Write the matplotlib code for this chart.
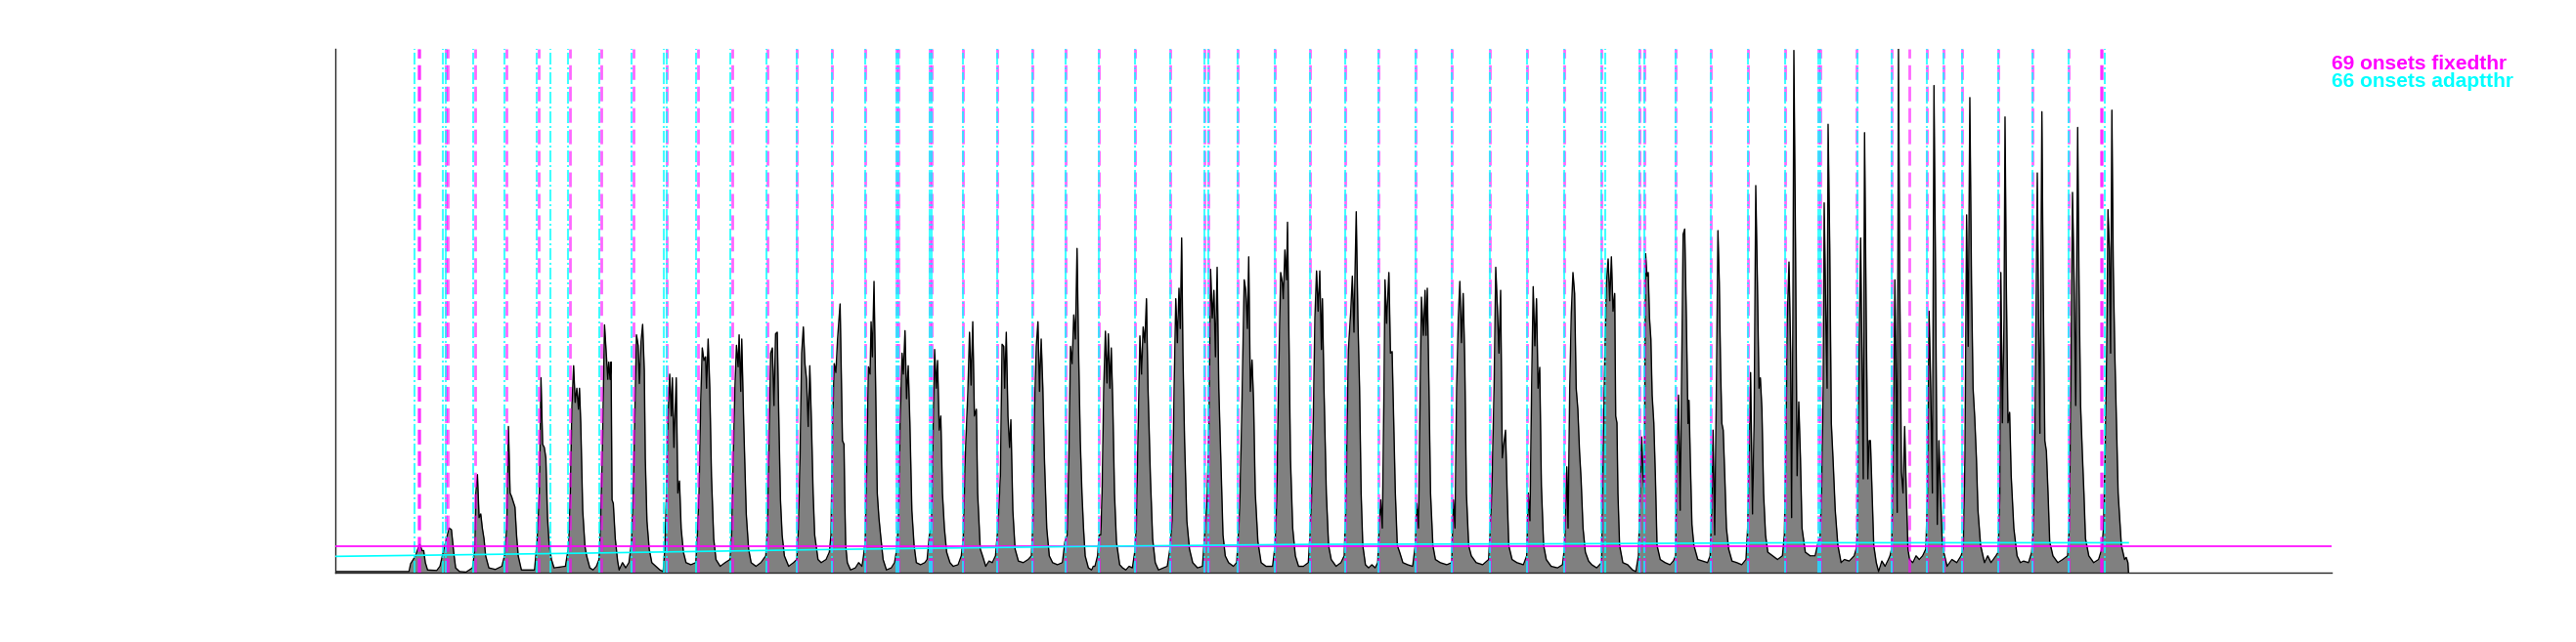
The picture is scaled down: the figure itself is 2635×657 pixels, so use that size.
import numpy as np
import matplotlib.pyplot as plt

# onset envelope (frame, level)
envelope = [
    (0, 0.002), (75.3, 0.002), (77, 0.017), (82, 0.032), (84.3, 0.045), (86.3, 0.054), (88.7, 0.042),
    (90.3, 0.042), (92, 0.019), (94.3, 0.005), (103.7, 0.004), (107, 0.012), (110.3, 0.039), (113.7, 0.065),
    (116.3, 0.085), (118.7, 0.082), (121, 0.039), (123, 0.009), (127, 0.002), (133.7, 0.001), (140.3, 0.009),
    (142.7, 0.045), (143.7, 0.152), (145.3, 0.187), (147, 0.105), (148.7, 0.112), (150.3, 0.085), (152, 0.065),
    (153.7, 0.032), (157, 0.009), (163.7, 0.006), (170.3, 0.012), (173, 0.032), (175.3, 0.085), (177, 0.279),
    (178.7, 0.152), (180.3, 0.145), (183.7, 0.125), (185.3, 0.072), (187, 0.032), (190.3, 0.005), (203.7, 0.005),
    (206.3, 0.059), (208.7, 0.152), (210.3, 0.372), (212, 0.245), (213.7, 0.239), (215.3, 0.219), (217, 0.105),
    (218.7, 0.052), (221, 0.025), (223.7, 0.009), (235.3, 0.012), (238.7, 0.052), (240.3, 0.152), (242, 0.319),
    (243.7, 0.395), (245.3, 0.325), (247, 0.352), (248.7, 0.312), (249.7, 0.352), (251, 0.285), (253, 0.119),
    (255.3, 0.05),
    (257, 0.032), (260.3, 0.009), (263.7, 0.005), (267, 0.012), (269.7, 0.025), (271, 0.079), (273, 0.219),
    (275.3, 0.473), (277, 0.42), (278.7, 0.369), (279.7, 0.402), (281, 0.369), (282, 0.402), (283, 0.139),
    (284.3, 0.132), (286.3, 0.065), (288.7, 0.022), (290.3, 0.005), (293.7, 0.019), (297, 0.009), (300.3, 0.019),
    (303, 0.059), (304.7, 0.152), (306.3, 0.299), (308, 0.454), (309.7, 0.434), (311, 0.361), (312.7, 0.441),
    (314.3, 0.474), (316, 0.386), (317, 0.219), (318.7, 0.099), (321, 0.045), (323.7, 0.019), (332, 0.005),
    (335.3, 0.002), (337, 0.045), (338.7, 0.152), (340.3, 0.299), (342, 0.379), (343.7, 0.299), (344.7, 0.372),
    (346.3, 0.239), (348.7, 0.372), (350.3, 0.152), (352, 0.175), (353.7, 0.085), (356, 0.039), (358.7, 0.019),
    (363.7, 0.015), (368.7, 0.019), (370.3, 0.072), (372, 0.152), (373.7, 0.325), (375.3, 0.429), (377, 0.405),
    (378.7, 0.412), (379.7, 0.352), (381.3, 0.446), (383, 0.352), (384.7, 0.185), (387, 0.065), (389.3, 0.025),
    (393.7, 0.012), (398.7, 0.019), (403.7, 0.025), (405.3, 0.072), (407, 0.219), (408.7, 0.352), (410.3, 0.434),
    (412, 0.393), (413, 0.454), (414.7, 0.346), (415.7, 0.446), (417.7, 0.285), (420.3, 0.112), (422.7, 0.045),
    (425.3, 0.019), (430.3, 0.012), (435.3, 0.019), (440.3, 0.032), (442, 0.085), (443.7, 0.252), (445.3, 0.419),
    (447, 0.429), (448.7, 0.319), (450.3, 0.456), (452, 0.459), (453.7, 0.285), (455.3, 0.139), (457, 0.072),
    (459.3, 0.032), (463.7, 0.012), (468.7, 0.019), (472, 0.025), (473.7, 0.085), (475.3, 0.219), (477, 0.419),
    (478.7, 0.469), (480.3, 0.399), (482, 0.369), (483.7, 0.279), (485.3, 0.395), (487, 0.285), (488.7, 0.152),
    (490.3, 0.072), (493.7, 0.025), (497, 0.019), (502, 0.025), (505.3, 0.039), (507, 0.072), (508.7, 0.286),
    (510.3, 0.399), (512, 0.382), (513.7, 0.446), (515.3, 0.486), (516.3, 0.513),
    (518.7, 0.252), (520.3, 0.245), (521, 0.152), (522, 0.052), (523.7, 0.019), (527, 0.005), (532, 0.009),
    (535.3, 0.019), (538.7, 0.012), (540.3, 0.032), (542, 0.059), (543.7, 0.219), (545.3, 0.393), (547, 0.379),
    (548, 0.479), (549.3, 0.412), (551, 0.556), (552.7, 0.353), (554.3, 0.152), (556, 0.105), (557.7, 0.072),
    (560.3, 0.025), (563.7, 0.005), (568.7, 0.009), (572, 0.019), (574.3, 0.045), (576, 0.099), (577.7, 0.286),
    (579.7, 0.419), (581, 0.379), (582.7, 0.462), (584.3, 0.332), (586, 0.395), (587.7, 0.285), (589.7, 0.119),
    (592, 0.052), (594.3, 0.019), (598.7, 0.015), (603, 0.019), (605.3, 0.025), (607.7, 0.072), (609.7, 0.085),
    (611.3, 0.252), (613, 0.426), (614.7, 0.352), (616, 0.405), (617.7, 0.272), (619.3, 0.299), (621, 0.152),
    (623, 0.085), (625.3, 0.039), (628.7, 0.019), (632, 0.012), (637, 0.015), (640.3, 0.032), (642.3, 0.065),
    (644.3, 0.219), (647, 0.346), (648.7, 0.459), (650.3, 0.358), (652, 0.479), (653.7, 0.299), (655.7, 0.312),
    (657, 0.152), (659.7, 0.045), (662, 0.032), (665.3, 0.012), (668.7, 0.022), (672, 0.019), (675.3, 0.032),
    (677.7, 0.085), (680.3, 0.185), (682, 0.436), (683.7, 0.432), (684.7, 0.352), (686.3, 0.459), (688, 0.299),
    (689.7, 0.239), (691, 0.292), (693, 0.119), (695.3, 0.045), (698.7, 0.022), (703.7, 0.019), (708.7, 0.025),
    (712, 0.032), (713.7, 0.099), (715.3, 0.319), (717, 0.432), (718.7, 0.479), (720.3, 0.346), (722, 0.446),
    (723.7, 0.352), (725.3, 0.219), (727.7, 0.085), (730.3, 0.032), (733.7, 0.019), (738.7, 0.015), (743.7, 0.019),
    (746.3, 0.059), (748.7, 0.072), (750.3, 0.219), (752, 0.432), (753.7, 0.399), (755.3, 0.492), (757, 0.446),
    (758.7, 0.619), (760.3, 0.419), (762, 0.252), (763.7, 0.152), (765.3, 0.085), (767, 0.032), (770.3, 0.009),
    (773.7, 0.005), (775.3, 0.012),
    (777, 0.012), (779.7, 0.032), (781.3, 0.072), (783, 0.072), (784.3, 0.152), (786, 0.352), (787.7, 0.461),
    (789.3, 0.362), (790.7, 0.456), (792.3, 0.352), (793.7, 0.429), (795.3, 0.319), (797, 0.152), (799, 0.059),
    (801, 0.032), (802.3, 0.015), (805.3, 0.009), (808.7, 0.005), (812, 0.012), (815.3, 0.009), (817.7, 0.039),
    (819.3, 0.085), (821.3, 0.285), (823, 0.452), (824.7, 0.379), (826.3, 0.469), (828, 0.439), (829.7, 0.523),
    (831.3, 0.352), (833.7, 0.185), (836, 0.065), (838.7, 0.019), (842, 0.005), (847, 0.009), (851, 0.012),
    (853.7, 0.045), (856, 0.099), (858, 0.352), (859.7, 0.523), (861.3, 0.439), (863, 0.543), (864.3, 0.466),
    (865.7, 0.639), (867, 0.419), (868.7, 0.252), (871, 0.099), (873.7, 0.045), (877, 0.019), (882, 0.009),
    (887, 0.012), (889.7, 0.085), (891.7, 0.136), (893.7, 0.285), (895.3, 0.579), (897, 0.486), (898.7, 0.539),
    (900.3, 0.412), (902, 0.583), (903.7, 0.352), (905.7, 0.219), (908, 0.072), (910.3, 0.032), (913.7, 0.019),
    (918.7, 0.012), (922, 0.019), (923.7, 0.072), (925, 0.119), (927, 0.285), (929.7, 0.559), (931.3, 0.539),
    (933, 0.466), (934.3, 0.603), (936, 0.346), (937.7, 0.406), (939.3, 0.326), (941, 0.152), (943.7, 0.059),
    (947, 0.019), (952, 0.012), (958.7, 0.012), (961.3, 0.052), (963, 0.139), (964.7, 0.352), (967, 0.573),
    (968.7, 0.553), (969.7, 0.523), (971.3, 0.616), (973, 0.559), (974, 0.669), (975.7, 0.419), (977, 0.219),
    (979.3, 0.085), (982, 0.032), (985.3, 0.012), (990.3, 0.012), (995.3, 0.019), (997, 0.072), (998.7, 0.146),
    (1000.3, 0.285), (1002, 0.486), (1003.7, 0.576), (1005.3, 0.499), (1007, 0.576), (1008.7, 0.426),
    (1009.7, 0.523), (1011.3, 0.352), (1013.7, 0.152), (1016, 0.052), (1018.7, 0.025), (1023.7, 0.012),
    (1028.7, 0.019), (1032, 0.032), (1033.7, 0.126), (1036.3, 0.426),
    (1038.7, 0.499), (1040.3, 0.566), (1042, 0.459), (1043, 0.566), (1044.3, 0.689), (1046, 0.486),
    (1047.7, 0.352), (1049.3, 0.152), (1051, 0.052), (1053.7, 0.015), (1057, 0.009), (1060.3, 0.015),
    (1063.7, 0.009), (1066.3, 0.019), (1067.7, 0.085), (1069.3, 0.139), (1071, 0.085), (1072.7, 0.352),
    (1073.7, 0.559), (1075.3, 0.476), (1077.7, 0.573), (1079.3, 0.419), (1081, 0.422), (1082.7, 0.285),
    (1084.3, 0.152), (1086.3, 0.052), (1088.7, 0.039), (1092, 0.019), (1097, 0.015), (1102, 0.012),
    (1104.7, 0.052), (1106.3, 0.132), (1108, 0.085), (1109.7, 0.352), (1111, 0.526), (1113, 0.453),
    (1114.7, 0.539), (1115.7, 0.453), (1117, 0.543), (1118.7, 0.352), (1120.3, 0.152), (1122.7, 0.052),
    (1125.3, 0.025), (1130.3, 0.019), (1137, 0.015), (1142, 0.019), (1143.7, 0.139), (1145.3, 0.085),
    (1147, 0.352), (1148.7, 0.486), (1150.3, 0.556), (1152, 0.439), (1153.7, 0.533), (1155.3, 0.406),
    (1157, 0.152), (1159.3, 0.052), (1162, 0.032), (1167, 0.019), (1173.7, 0.015), (1179.7, 0.025),
    (1181.3, 0.079), (1183, 0.152), (1185.3, 0.352), (1187, 0.583), (1188.7, 0.506), (1190.3, 0.419),
    (1192, 0.539), (1193.7, 0.219), (1195.3, 0.246), (1197, 0.272), (1198.7, 0.152), (1200.3, 0.052),
    (1203.7, 0.025), (1208.7, 0.019), (1215.3, 0.015), (1218.7, 0.032), (1220.3, 0.152), (1222, 0.099),
    (1223.7, 0.352), (1225.3, 0.546), (1227, 0.433), (1228.7, 0.523), (1230.3, 0.352), (1232, 0.392),
    (1233.7, 0.166), (1236, 0.052), (1238.7, 0.025), (1243.7, 0.012), (1250.3, 0.009), (1255.3, 0.015),
    (1257.7, 0.052), (1259.7, 0.202), (1261, 0.085), (1262.7, 0.352), (1264.3, 0.496), (1266, 0.573),
    (1267.7, 0.533), (1269.3, 0.352), (1271, 0.312), (1272.7, 0.232), (1274.3, 0.179), (1276.3, 0.085),
    (1278.7, 0.039), (1282, 0.022), (1285.3, 0.015), (1290.3, 0.009), (1295.3, 0.019), (1296.3, 0.166),
    (1298.7, 0.419), (1300.3, 0.553), (1302, 0.599), (1303.7, 0.519), (1305.3, 0.603), (1307, 0.499),
    (1308.7, 0.533), (1309.7, 0.299), (1311, 0.286), (1312, 0.152), (1313.7, 0.052), (1317, 0.019),
    (1322, 0.015), (1327, 0.005), (1330.3, 0.002), (1333, 0.032), (1334.7, 0.152), (1336.3, 0.259),
    (1337.7, 0.185), (1339, 0.152), (1340.3, 0.609), (1341.7, 0.566), (1343, 0.573), (1344.3, 0.486),
    (1345.7, 0.446), (1347, 0.339), (1348.7, 0.286), (1350.3, 0.185), (1352, 0.052), (1355.3, 0.025),
    (1360.3, 0.019), (1365.3, 0.015), (1368.7, 0.022), (1371, 0.032), (1372.3, 0.219), (1374, 0.339),
    (1375.7, 0.119), (1377, 0.352), (1378.7, 0.646), (1380.3, 0.656), (1382, 0.486), (1383.7, 0.285),
    (1384.7, 0.329), (1386, 0.219), (1387.7, 0.092), (1389.7, 0.052), (1393.7, 0.025), (1398.7, 0.022),
    (1403.7, 0.019), (1406.3, 0.032), (1408, 0.119), (1409.3, 0.272), (1411, 0.072), (1412.7, 0.352),
    (1414.3, 0.653), (1415.7, 0.553), (1417, 0.393), (1418.3, 0.285), (1419.7, 0.272), (1421.3, 0.185),
    (1423, 0.085), (1425.3, 0.045), (1428.7, 0.022), (1433.7, 0.019), (1438.7, 0.015), (1443, 0.025),
    (1444.7, 0.085), (1446.3, 0.219), (1447.7, 0.382), (1449.7, 0.112), (1451.3, 0.285), (1453, 0.739),
    (1454.7, 0.553), (1456.3, 0.352), (1457.7, 0.372), (1459.3, 0.312), (1461, 0.152), (1463, 0.072),
    (1465.3, 0.039), (1470.3, 0.032), (1475.3, 0.025), (1480.3, 0.032), (1482.3, 0.072), (1483.7, 0.219),
    (1485.3, 0.486), (1487, 0.593), (1488.7, 0.419), (1489.7, 0.105), (1491, 0.486), (1492, 0.997),
    (1493.7, 0.619), (1495.3, 0.185), (1497, 0.326), (1498.7, 0.219), (1500.3, 0.085), (1503.7, 0.039),
    (1508.7, 0.032), (1513.7, 0.032), (1517, 0.059), (1518.7, 0.065), (1520.3, 0.152), (1522, 0.352),
    (1523, 0.706), (1524.7, 0.486), (1526, 0.352), (1527, 0.856), (1528.7, 0.619), (1530.3, 0.285),
    (1532, 0.219), (1534.3, 0.119), (1537, 0.052), (1540.3, 0.019), (1543.7, 0.025), (1548.7, 0.022),
    (1553.7, 0.032), (1556.3, 0.049),
    (1557, 0.085), (1558.7, 0.419), (1560.3, 0.639), (1562, 0.352), (1563, 0.179), (1564.3, 0.84),
    (1566, 0.486), (1567.7, 0.179), (1569, 0.252), (1570.3, 0.252), (1572, 0.152), (1573.7, 0.052),
    (1576.3, 0.019), (1578.7, 0.002), (1582, 0.022), (1585.3, 0.012), (1588.7, 0.025), (1590.3, 0.032),
    (1592, 0.045), (1593.7, 0.219), (1595.3, 0.559), (1596.3, 0.419), (1597.7, 0.115), (1599, 1.0),
    (1600.3, 0.553), (1602, 0.192), (1603.7, 0.152), (1605.3, 0.279), (1607, 0.152), (1608.7, 0.045),
    (1610.3, 0.025), (1613.7, 0.019), (1617, 0.032), (1620.3, 0.025), (1623.7, 0.032), (1627, 0.045),
    (1628.7, 0.152), (1630.3, 0.499), (1632, 0.352), (1633.7, 0.152), (1635.3, 0.93), (1637, 0.553),
    (1638.7, 0.092), (1640.3, 0.252), (1642, 0.152), (1643.7, 0.059), (1645.3, 0.039), (1648.7, 0.012),
    (1653.7, 0.025), (1658.7, 0.019), (1663, 0.032), (1665.3, 0.045), (1667, 0.219), (1668.7, 0.683),
    (1670.3, 0.432), (1672, 0.907), (1673.7, 0.553), (1675.3, 0.352), (1677, 0.296), (1678.7, 0.219),
    (1680.3, 0.119), (1683, 0.052), (1687, 0.019), (1690.3, 0.032), (1693.7, 0.019), (1698.7, 0.032),
    (1701, 0.039), (1702.7, 0.152), (1703.7, 0.573), (1705.3, 0.286), (1707, 0.486), (1708, 0.87),
    (1709.3, 0.553), (1711, 0.286), (1712.7, 0.306), (1714.3, 0.185), (1717, 0.085), (1720.3, 0.032),
    (1723.7, 0.019), (1727, 0.022), (1732, 0.019), (1735.3, 0.039), (1737, 0.085), (1738.7, 0.285),
    (1741, 0.763), (1742.3, 0.486), (1743.7, 0.266), (1745.7, 0.88), (1747, 0.553), (1748.7, 0.252),
    (1750.3, 0.232), (1752, 0.152), (1753.7, 0.059), (1757, 0.032), (1762, 0.019), (1767, 0.025),
    (1772, 0.032), (1773.7, 0.085), (1775.3, 0.352), (1777, 0.726), (1778.7, 0.553), (1780.3, 0.319),
    (1782.3, 0.85), (1783.7, 0.553), (1785.3, 0.319), (1787, 0.232), (1788.7, 0.152), (1790.3, 0.065),
    (1793.7, 0.032), (1798.7, 0.019), (1803.7, 0.025), (1807, 0.045), (1808.7, 0.085), (1810.3, 0.219),
    (1812, 0.419), (1813.3, 0.693), (1814.7, 0.619), (1816, 0.419), (1817.3, 0.883), (1818.7, 0.586),
    (1820.3, 0.419), (1822, 0.285), (1823.7, 0.152), (1827, 0.052), (1830.3, 0.025), (1832, 0.029),
    (1833.7, 0.019), (1834.3, 0.0),
]

# detected onsets (frames)
fixed_onsets = [85, 86.3, 112.7, 115.3, 142.7, 175.3, 208, 240.3,
                272, 304.7, 338.7, 371.3, 406, 442, 472, 507.7,
                542, 574.3, 576.3, 607.7, 610, 642.3, 677.3, 713, 747.3,
                781.3, 817.7, 853.7, 889.3, 893.3, 923, 961.3, 997, 1033,
                1067, 1104.7, 1142.3, 1181, 1219.3, 1257, 1294.7,
                1333.7, 1338.7, 1371, 1407.3, 1444.7, 1483, 1517.3, 1519.3, 1556.3,
                1592.3, 1609.7, 1627.7, 1645, 1664.3, 1701, 1736, 1772.7, 1806, 1807.5]
adapt_onsets = [81.3, 109.7, 112.7, 141.3, 173, 206.3, 219.7, 238,
                270, 302.7, 336.3, 338.7, 369.3, 404, 440.7, 472, 507.7,
                542, 574.3, 576.3, 607.7, 610, 642.3, 677.3, 713, 747.3,
                781.3, 817.7, 853.7, 889.3, 893.3, 923, 961.3, 997, 1033,
                1067, 1104.7, 1142.3, 1181, 1219.3, 1257, 1294.7,
                1298.7, 1333.7, 1338.7, 1371, 1407.3, 1444.7, 1483, 1517.3, 1519.3,
                1557, 1592.3, 1627.7, 1645, 1664.3, 1701, 1736, 1772.7, 1809.7]

fixed_thr = 0.05
adapt_frames = [0, 250, 500, 770, 1000, 1250, 1500, 1834]
adapt_thr = [0.031, 0.037, 0.044, 0.050, 0.054, 0.055, 0.057, 0.057]

x, y = np.array(envelope).T

fig = plt.figure(figsize=(26.35, 6.57), dpi=100)
ax = fig.add_axes([0.1302, 0.1081, 0.7749, 0.8158])

ax.fill_between(x, 0, y, color="#808080", lw=0, zorder=1)
ax.plot(x, y, color="k", lw=1.0, zorder=2)

for xo in fixed_onsets:
    ax.axvline(xo, color="magenta", ls=(0, (5.4, 2.5)), lw=2, alpha=0.6, zorder=3)
for xo in adapt_onsets:
    ax.axvline(xo, color="cyan", ls=(0, (5.8, 1.4, 1, 1.4)), lw=1.5, alpha=0.75, zorder=4)

ax.axhline(fixed_thr, color="magenta", lw=1.2, zorder=5)
ax.plot(adapt_frames, adapt_thr, color="cyan", lw=1.2, zorder=5)

ax.set_xlim(0, 2042)
ax.set_ylim(0, 1)
ax.set_xticks([])
ax.set_yticks([])
ax.spines["top"].set_visible(False)
ax.spines["right"].set_visible(False)
for s in ("left", "bottom"):
    ax.spines[s].set_color("#262626")
    ax.spines[s].set_linewidth(1)

ax.text(1.0, 0.972, "69 onsets fixedthr", transform=ax.transAxes, color="magenta",
        fontweight="bold", fontsize=15, family="Liberation Sans", va="center", ha="left")
ax.text(1.0, 0.937, "66 onsets adaptthr", transform=ax.transAxes, color="cyan",
        fontweight="bold", fontsize=15, family="Liberation Sans", va="center", ha="left")

fig.savefig("out.png")
